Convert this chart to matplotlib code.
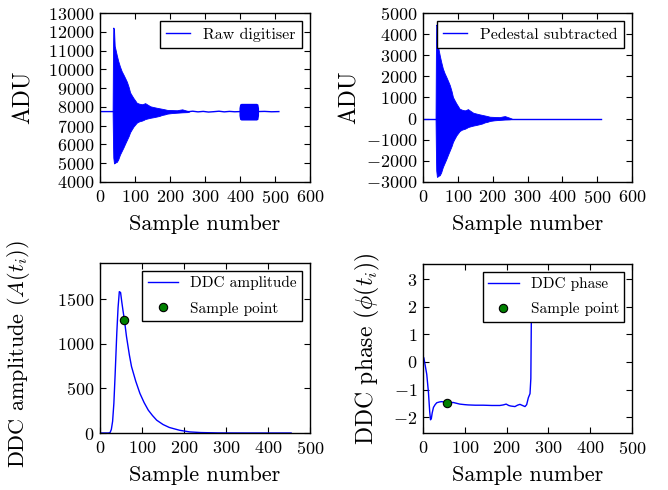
import matplotlib
matplotlib.use("Agg")
import matplotlib.pyplot as plt
from matplotlib.ticker import MultipleLocator

# ---------------- data ----------------
# Raw digitiser: quiet baseline trace and envelope of the fast oscillation
raw_line_x = [0, 36, 255, 265, 280, 295, 310, 325, 340, 355, 370, 385, 400, 450, 470, 490, 511]
raw_line_y = [7750, 7750, 7750, 7770, 7735, 7760, 7725, 7745, 7770, 7735, 7760, 7740, 7750, 7750, 7760, 7740, 7750]
env_x = [36, 37, 38, 40, 42, 45, 48, 52, 57, 62, 67, 72, 77, 82, 86, 91, 96, 101, 105, 112,
         120, 125, 129, 135, 144, 153, 163, 170, 177, 185, 192, 205, 220, 228, 235, 242, 249, 255]
raw_env_hi = [7750, 10750, 12230, 12150, 11250, 11000, 10750, 10450, 10150, 9900, 9720, 9530, 9330, 9050,
              8770, 8610, 8460, 8330, 8220, 8170, 8140, 8170, 8200, 8130, 8030, 7990, 7950, 7925, 7900,
              7870, 7840, 7830, 7820, 7850, 7870, 7830, 7790, 7750]
raw_env_lo = [7750, 6250, 5300, 4990, 5010, 5050, 5070, 5200, 5460, 5650, 5840, 6050, 6250, 6450, 6650,
              6810, 6960, 7070, 7160, 7230, 7270, 7310, 7350, 7380, 7420, 7450, 7490, 7520, 7570, 7600,
              7640, 7670, 7690, 7700, 7710, 7715, 7720, 7750]
burst_x = [397, 399, 403, 447, 451, 453]
burst_hi = [7950, 8150, 8190, 8190, 8150, 7950]
burst_lo = [7550, 7340, 7300, 7300, 7340, 7550]

# Pedestal subtracted
ped_line_x = [0, 36, 255, 511]
ped_line_y = [0, 0, 0, 0]
ped_env_hi = [0, 3000, 4450, 4400, 3500, 3250, 3000, 2700, 2370, 2150, 1970, 1780, 1580, 1300, 1020, 860,
              710, 580, 470, 420, 390, 420, 450, 380, 280, 240, 200, 175, 150, 120, 90, 80, 70, 100, 120,
              80, 40, 0]
ped_env_lo = [0, -1500, -2450, -2760, -2740, -2700, -2680, -2550, -2290, -2100, -1910, -1700, -1500, -1300,
              -1100, -940, -790, -680, -590, -520, -480, -440, -400, -370, -330, -300, -260, -230, -180,
              -150, -110, -80, -60, -50, -40, -35, -30, 0]

# DDC amplitude
amp_x = [0, 20, 24, 27, 30, 33, 36, 40, 43, 46, 49, 52, 55, 58, 63, 70, 75, 85, 95, 105, 115, 125, 135,
         150, 165, 175, 190, 214, 240, 280, 350, 455]
amp_y = [0, 0, 5, 40, 130, 330, 650, 1118, 1400, 1580, 1570, 1460, 1360, 1268, 1080, 870, 743, 580, 443,
         340, 255, 195, 143, 95, 62, 49, 30, 12, 5, 1, 0, 0]
amp_sample_x = [58]
amp_sample_y = [1268]

# DDC phase
phase_x = [0, 2, 5, 9, 13, 16, 18, 20, 22, 25, 29, 33, 40, 45, 52, 57, 65, 72, 80, 88, 100, 108, 125, 144,
           165, 184, 192, 199, 205, 210, 220, 226, 232, 238, 244, 248, 252, 256, 258, 260]
phase_y = [0.2, 0.15, -0.1, -0.45, -1.1, -1.8, -2.1, -2.05, -1.85, -1.65, -1.55, -1.48, -1.45, -1.44,
           -1.46, -1.48, -1.48, -1.47, -1.5, -1.53, -1.55, -1.56, -1.57, -1.57, -1.58, -1.58, -1.56, -1.53,
           -1.58, -1.6, -1.62, -1.57, -1.54, -1.58, -1.62, -1.55, -1.3, -1.15, -0.6, 3.1]
phase_sample_x = [57]
phase_sample_y = [-1.48]

# ---------------- style ----------------
plt.rcParams.update({
    "font.family": ["cmr10", "DejaVu Serif"],
    "mathtext.fontset": "cm",
    "axes.formatter.use_mathtext": True,
    "axes.unicode_minus": True,
    "xtick.direction": "in",
    "ytick.direction": "in",
    "xtick.top": True,
    "ytick.right": True,
    "xtick.major.size": 4,
    "ytick.major.size": 4,
    "xtick.major.pad": 5,
    "ytick.major.pad": 4,
    "xtick.labelsize": 13,
    "ytick.labelsize": 13,
    "axes.labelsize": 16,
    "axes.linewidth": 1.0,
    "legend.fancybox": False,
    "legend.framealpha": 1.0,
    "legend.edgecolor": "black",
    "legend.numpoints": 1,
    "legend.borderpad": 0.35,
    "legend.labelspacing": 0.75,
})

fig = plt.figure(figsize=(6.68, 4.9), dpi=100)
fig.patch.set_facecolor("white")

W, H = 668.0, 490.0
def pos(l, t, r, b):
    return [l / W, 1 - b / H, (r - l) / W, (b - t) / H]

ax1 = fig.add_axes(pos(100, 13, 310, 182))
ax2 = fig.add_axes(pos(423, 13, 632, 182))
ax3 = fig.add_axes(pos(100, 263, 310, 433))
ax4 = fig.add_axes(pos(423, 264, 632, 433))

blue = (0, 0, 1)
green = (0, 0.5, 0)
YL = 17

# Raw digitiser
ax1.plot(raw_line_x, raw_line_y, color=blue, lw=1.0, label="Raw digitiser")
ax1.fill_between(env_x, raw_env_lo, raw_env_hi, color=blue, lw=0.6)
ax1.fill_between(burst_x, burst_lo, burst_hi, color=blue, lw=0)
ax1.set_xlim(0, 600)
ax1.set_ylim(4000, 13000)
ax1.xaxis.set_major_locator(MultipleLocator(100))
ax1.yaxis.set_major_locator(MultipleLocator(1000))
ax1.set_xlabel("Sample number", labelpad=6)
ax1.set_ylabel("ADU", fontsize=YL)
ax1.yaxis.set_label_coords(-0.31, 0.5)
ax1.legend(loc="upper right", borderaxespad=0.5, fontsize=11.5, handlelength=1.5,
           borderpad=0.4)

# Pedestal subtracted
ax2.plot(ped_line_x, ped_line_y, color=blue, lw=1.0, label="Pedestal subtracted")
ax2.fill_between(env_x, ped_env_lo, ped_env_hi, color=blue, lw=0.6)
ax2.set_xlim(0, 600)
ax2.set_ylim(-3000, 5000)
ax2.xaxis.set_major_locator(MultipleLocator(100))
ax2.yaxis.set_major_locator(MultipleLocator(1000))
ax2.set_xlabel("Sample number", labelpad=6)
ax2.set_ylabel("ADU", fontsize=YL)
ax2.yaxis.set_label_coords(-0.30, 0.5)
ax2.legend(loc="upper right", borderaxespad=0.5, fontsize=11.5, handlelength=1.5,
           borderpad=0.4)

# DDC amplitude
ax3.plot(amp_x, amp_y, color=blue, lw=1.0, label="DDC amplitude")
ax3.plot(amp_sample_x, amp_sample_y, "o", color=green, mec="black", mew=0.8, ms=6,
         label="Sample point", zorder=5)
ax3.set_xlim(0, 500)
ax3.set_ylim(0, 1900)
ax3.xaxis.set_major_locator(MultipleLocator(100))
ax3.yaxis.set_major_locator(MultipleLocator(500))
ax3.set_xlabel("Sample number", labelpad=6)
ax3.set_ylabel(r"DDC amplitude ($A(t_i)$)", fontsize=16)
ax3.yaxis.set_label_coords(-0.325, 0.465)
ax3.legend(loc="upper right", borderaxespad=0.5, fontsize=11, handlelength=2.0)

# DDC phase
ax4.plot(phase_x, phase_y, color=blue, lw=1.0, label="DDC phase")
ax4.plot(phase_sample_x, phase_sample_y, "o", color=green, mec="black", mew=0.8, ms=6,
         label="Sample point", zorder=5)
ax4.set_xlim(0, 500)
ax4.set_ylim(-2.58, 3.56)
ax4.xaxis.set_major_locator(MultipleLocator(100))
ax4.yaxis.set_major_locator(MultipleLocator(1))
ax4.set_xlabel("Sample number", labelpad=6)
ax4.set_ylabel(r"DDC phase ($\phi(t_i)$)", fontsize=YL)
ax4.yaxis.set_label_coords(-0.196, 0.5)
ax4.legend(loc="upper right", borderaxespad=0.5, fontsize=11, handlelength=2.0)

fig.savefig("out.png", dpi=100, facecolor="white")
